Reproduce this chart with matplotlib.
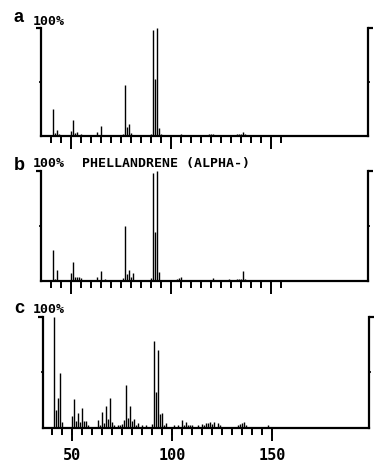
import matplotlib
matplotlib.use("Agg")
import matplotlib.pyplot as plt

W, H = 374, 466

# panel a: measured spectrum
mz_a = [41, 42, 43, 44, 45, 47, 49, 50, 51, 52, 53, 54, 55, 56, 57, 58, 60, 62,
        63, 64, 65, 66, 67, 68, 69, 70, 71, 73, 74, 75, 76, 77, 78, 79, 80, 81,
        82, 84, 86, 88, 89, 90, 91, 92, 93, 94, 95, 96, 98, 100, 102, 103, 104,
        105, 106, 107, 109, 110, 111, 113, 114, 115, 117, 118, 119, 120, 121,
        122, 123, 124, 125, 126, 127, 128, 129, 130, 131, 132, 133, 134, 135,
        136, 137, 139, 142, 151]
int_a = [25, 3, 6, 2, 1, 1, 1, 5, 15, 3, 4, 1, 2, 1, 1, 1, 1, 1,
         4, 1, 9, 1, 1, 1, 1, 1, 1, 1, 1, 1, 2, 47, 8, 11, 3, 1,
         1, 1, 1, 1, 1, 2, 98, 53, 100, 7, 2, 1, 1, 1, 1, 1, 1,
         1.5, 1, 1, 1, 1, 1, 1, 1, 1, 1, 1, 1.5, 1.5, 1.5,
         1, 1, 1, 1, 1, 1, 1, 1, 1, 1, 1, 1.5, 2, 2,
         4, 1.5, 1, 1, 1]

# panel b: library spectrum
mz_b = [41, 42, 43, 44, 50, 51, 52, 53, 54, 55, 57, 62, 63, 64, 65, 66, 67,
        75, 76, 77, 78, 79, 80, 81, 82, 89, 90, 91, 92, 93, 94, 95, 103, 104,
        105, 106, 115, 121, 126, 129, 131, 133, 134, 135, 136, 137]
int_b = [28, 2, 10, 1, 7, 17, 4, 4, 4, 3, 1, 1, 4, 1, 9, 1, 2,
         1, 3, 50, 6, 10, 4, 7, 1, 1, 3, 98, 45, 100, 8, 1, 2, 3,
         4, 1, 1, 3, 1, 2, 1, 2, 2, 2, 9, 2]

# panel c: measured spectrum, other sample
mz_c = [41, 42, 43, 44, 45, 46, 49, 50, 51, 52, 53, 54, 55, 56, 57, 58, 60,
        62, 63, 64, 65, 66, 67, 68, 69, 70, 71, 72, 73, 74, 75, 76, 77, 78,
        79, 80, 81, 82, 83, 84, 85, 87, 89, 90, 91, 92, 93, 94, 95, 96, 97,
        98, 99, 100, 101, 102, 103, 104, 105, 106, 107, 108, 109, 110, 111,
        112, 113, 114, 115, 116, 117, 118, 119, 120, 121, 122, 123, 124, 125,
        131, 132, 133, 134, 135, 136, 137, 148]
int_c = [100, 16, 27, 49, 5, 1, 1, 11, 26, 6, 13, 5, 18, 6, 6, 2, 1,
         1, 7, 2, 14, 4, 20, 8, 27, 5, 2, 1, 2, 2, 3, 7, 39, 9,
         20, 6, 8, 2, 4, 1, 2, 2, 1, 3, 78, 32, 70, 12, 13, 2, 4,
         1, 1, 1, 2, 1, 2, 1, 7, 2, 5, 2, 2, 2, 1,
         1, 2, 1, 3, 2, 4, 4, 5, 3, 5, 1, 4, 2, 1,
         1, 1, 2, 3, 4, 5, 2, 2]

tick_labels = ['50', '100', '150']
title_b = 'PHELLANDRENE (ALPHA-)'

mono = 'DejaVu Sans Mono'
sans = 'Liberation Sans'


def fig_xy(x, y):
    return x / W, 1 - y / H


def draw_panel(fig, rect, mz, inten, xlim, last_tick, labels):
    l, t, r, b = rect
    ax = fig.add_axes([l / W, 1 - b / H, (r - l) / W, (b - t) / H])
    ax.vlines(mz, 0, inten, color='black', lw=1.0)
    ax.set_xlim(*xlim)
    ax.set_ylim(0, 100)
    ax.spines['top'].set_visible(False)
    for s in ['left', 'right', 'bottom']:
        ax.spines[s].set_linewidth(1.6)
    ax.set_xticks([50, 100, 150])
    ax.set_xticks([m for m in range(40, last_tick + 1, 5) if m % 50], minor=True)
    ax.tick_params(axis='x', which='major', direction='out', length=9.5, width=1.4, pad=5)
    ax.tick_params(axis='x', which='minor', direction='out', length=5, width=1.4)
    ax.set_yticks([100])
    ax.set_yticks([50], minor=True)
    ax.tick_params(axis='y', which='both', left=True, right=True,
                   labelleft=False, direction='out')
    ax.tick_params(axis='y', which='major', length=3.5, width=1.6)
    ax.tick_params(axis='y', which='minor', length=1.5, width=1.2)
    if labels:
        ax.set_xticklabels(tick_labels, fontfamily=mono, fontweight='bold', fontsize=11)
    else:
        ax.set_xticklabels([])
    return ax


def main():
    fig = plt.figure(figsize=(W / 100, H / 100), dpi=100)

    draw_panel(fig, [40.7, 28, 368.3, 136], mz_a, int_a, (35, 198.8), 155, False)
    draw_panel(fig, [40.7, 171, 368.3, 281], mz_b, int_b, (35, 198.8), 155, False)
    draw_panel(fig, [43, 317, 369.3, 427.7], mz_c, int_c, (35.4, 198.5), 150, True)

    # panel letters and 100% marks
    for letter, y_letter, y_pct in [('a', 22.3, 25), ('b', 170, 166.7), ('c', 313.3, 313.3)]:
        fig.text(*fig_xy(14, y_letter), letter, fontfamily=sans, fontweight='bold',
                 fontsize=13, va='baseline', ha='left')
        fig.text(*fig_xy(33, y_pct), '100%', fontfamily=mono, fontweight='bold',
                 fontsize=9.5, va='baseline', ha='left')

    fig.text(*fig_xy(81.7, 166.7), title_b, fontfamily=mono, fontweight='bold',
             fontsize=9.5, va='baseline', ha='left')

    fig.savefig('out.png', dpi=100)


if __name__ == "__main__":
    main()
